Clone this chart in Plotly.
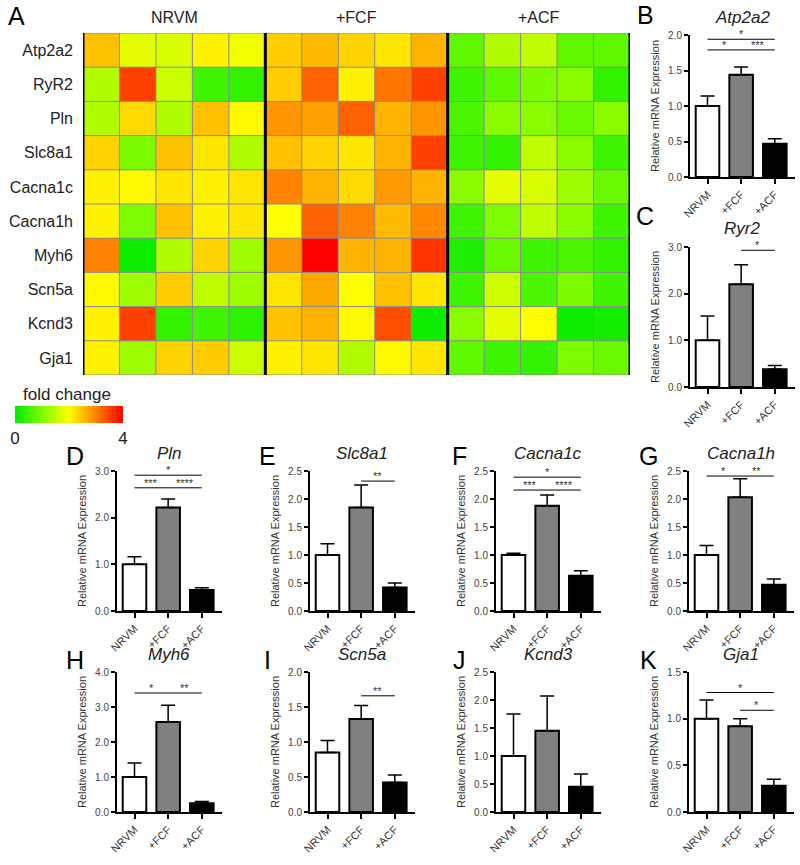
import plotly.graph_objects as go

W, H = 800, 865

# ---------------- heatmap data (panel A) ----------------
genes = ["Atp2a2", "RyR2", "Pln", "Slc8a1", "Cacna1c", "Cacna1h", "Myh6", "Scn5a", "Kcnd3", "Gja1"]
groups = ["NRVM", "+FCF", "+ACF"]
fc_atp2a2 = [2.5, 1.8, 1.7, 2.1, 1.9, 2.4, 2.55, 2.35, 2.2, 2.6, 0.75, 1.4, 1.5, 0.75, 0.75]
fc_ryr2 = [1.4, 3.5, 1.6, 0.5, 0.4, 2.4, 3.25, 2.1, 3.1, 3.5, 0.5, 0.75, 1.0, 1.1, 0.4]
fc_pln = [1.4, 2.3, 1.4, 2.5, 2.05, 2.85, 2.75, 3.25, 2.6, 2.85, 0.6, 1.1, 1.1, 0.85, 1.1]
fc_slc8a1 = [2.35, 1.0, 2.5, 2.2, 1.4, 2.5, 2.35, 2.2, 2.6, 3.5, 0.5, 0.4, 1.5, 1.1, 0.5]
fc_cacna1c = [2.1, 2.05, 2.2, 2.1, 2.2, 3.0, 2.6, 2.3, 2.8, 2.6, 1.1, 1.8, 1.7, 1.25, 0.85]
fc_cacna1h = [2.1, 1.0, 2.5, 2.1, 2.2, 2.0, 3.25, 3.0, 2.55, 2.95, 0.5, 1.0, 1.5, 1.1, 0.5]
fc_myh6 = [3.0, 0.1, 1.4, 2.35, 1.25, 2.85, 4.0, 2.6, 2.6, 3.6, 0.25, 0.85, 0.5, 0.6, 0.4]
fc_scn5a = [2.05, 1.25, 2.4, 1.5, 1.25, 2.2, 2.7, 2.0, 2.5, 2.2, 0.5, 1.6, 0.6, 1.0, 0.5]
fc_kcnd3 = [2.1, 3.5, 0.4, 0.5, 0.35, 2.5, 2.6, 2.05, 3.4, 0.1, 1.1, 1.8, 2.0, 0.1, 0.15]
fc_gja1 = [2.1, 1.25, 2.35, 2.4, 1.6, 2.1, 2.2, 1.4, 2.05, 2.2, 0.75, 0.5, 0.4, 1.0, 0.85]
fold_change = [fc_atp2a2, fc_ryr2, fc_pln, fc_slc8a1, fc_cacna1c,
               fc_cacna1h, fc_myh6, fc_scn5a, fc_kcnd3, fc_gja1]

# ---------------- bar chart data (panels B-K) ----------------
conditions = ["NRVM", "+FCF", "+ACF"]
panel_letters = ["B", "C", "D", "E", "F", "G", "H", "I", "J", "K"]
panel_titles = ["Atp2a2", "Ryr2", "Pln", "Slc8a1", "Cacna1c", "Cacna1h", "Myh6", "Scn5a", "Kcnd3", "Gja1"]
mean_B = [1.0, 1.44, 0.47]; top_B = [1.14, 1.55, 0.54]
mean_C = [1.0, 2.2, 0.38];  top_C = [1.52, 2.62, 0.46]
mean_D = [1.0, 2.22, 0.45]; top_D = [1.16, 2.4, 0.5]
mean_E = [1.0, 1.85, 0.42]; top_E = [1.2, 2.25, 0.5]
mean_F = [1.0, 1.88, 0.63]; top_F = [1.03, 2.07, 0.72]
mean_G = [1.0, 2.03, 0.47]; top_G = [1.17, 2.36, 0.57]
mean_H = [1.0, 2.57, 0.25]; top_H = [1.4, 3.05, 0.3]
mean_I = [0.85, 1.33, 0.42]; top_I = [1.02, 1.52, 0.53]
mean_J = [1.0, 1.45, 0.45]; top_J = [1.75, 2.07, 0.68]
mean_K = [1.0, 0.92, 0.28]; top_K = [1.2, 1.0, 0.35]
means = [mean_B, mean_C, mean_D, mean_E, mean_F, mean_G, mean_H, mean_I, mean_J, mean_K]
tops = [top_B, top_C, top_D, top_E, top_F, top_G, top_H, top_I, top_J, top_K]
y_max = [2.0, 3.0, 3.0, 2.5, 2.5, 2.5, 4.0, 2.0, 2.5, 1.5]
y_step = [0.5, 1.0, 1.0, 0.5, 0.5, 0.5, 1.0, 0.5, 0.5, 0.5]
# significance brackets: (from, to, height, label)
sig_B = [(0, 2, 1.94, "*"), (0, 1, 1.79, "*"), (1, 2, 1.79, "***")]
sig_C = [(1, 2, 2.93, "*")]
sig_D = [(0, 2, 2.91, "*"), (0, 1, 2.64, "***"), (1, 2, 2.64, "****")]
sig_E = [(0, 2, 2.52, "*"), (1, 2, 2.32, "**")]
sig_F = [(0, 2, 2.39, "*"), (0, 1, 2.16, "***"), (1, 2, 2.16, "****")]
sig_G = [(0, 2, 2.57, "*"), (0, 1, 2.41, "*"), (1, 2, 2.41, "**")]
sig_H = [(0, 1, 3.4, "*"), (1, 2, 3.4, "**")]
sig_I = [(1, 2, 1.66, "**")]
sig_J = []
sig_K = [(0, 2, 1.28, "*"), (1, 2, 1.09, "*")]
sigs = [sig_B, sig_C, sig_D, sig_E, sig_F, sig_G, sig_H, sig_I, sig_J, sig_K]

# ---------------- layout geometry (page pixels) ----------------
# (y-axis x position, zero-line y, top y)
geom = [(690, 177, 35), (690, 387, 247),
        (117, 611, 471), (310, 611, 471), (496, 611, 471), (689, 611, 471),
        (117, 812, 672), (310, 812, 672), (496, 812, 672), (689, 812, 672)]
letter_pos = [(645, 15), (645, 216),
              (75, 456), (267, 456), (459, 456), (648, 456),
              (75, 660), (267, 660), (459, 660), (648, 660)]

FONT = "Liberation Sans, Arial, sans-serif"
px = lambda x: x / W
py = lambda y: 1 - y / H

colorscale = [[0.0, "rgb(0,235,0)"], [0.25, "rgb(125,252,0)"], [0.5, "rgb(255,255,0)"],
              [0.75, "rgb(255,130,0)"], [1.0, "rgb(255,0,0)"]]

fig = go.Figure()
fig.add_trace(go.Heatmap(
    z=fold_change, x=list(range(15)), y=genes, zmin=0, zmax=4, colorscale=colorscale,
    colorbar=dict(orientation="h", x=px(15), xanchor="left", y=py(406), yanchor="top",
                  len=108, lenmode="pixels", thickness=17, thicknessmode="pixels",
                  tickvals=[0, 4], ticktext=["0", "4"], ticks="",
                  tickfont=dict(size=17, color="#222", family=FONT),
                  outlinewidth=0, xpad=0, ypad=0),
    xaxis="x", yaxis="y", hoverinfo="skip"))

layout = dict(
    width=W, height=H, margin=dict(l=0, r=0, t=0, b=0, autoexpand=False),
    paper_bgcolor="white", plot_bgcolor="white", showlegend=False,
    font=dict(family=FONT, color="#222"),
    xaxis=dict(domain=[px(83), px(630)], range=[-0.5, 14.5], showticklabels=False,
               showgrid=False, zeroline=False, ticks=""),
    yaxis=dict(domain=[py(375), py(33)], range=[9.5, -0.5], showgrid=False, zeroline=False,
               ticks="", tickfont=dict(size=16, color="#222"), ticklabelstandoff=9),
)
shapes = []
annotations = []

# heatmap cell borders
for i in range(1, 15):
    if i % 5:
        shapes.append(dict(type="line", xref="x", yref="y", x0=i - 0.5, x1=i - 0.5, y0=-0.5, y1=9.5,
                           line=dict(color="#8c8c8c", width=1)))
for j in range(0, 11):
    shapes.append(dict(type="line", xref="x", yref="y", x0=-0.5, x1=14.5, y0=j - 0.5, y1=j - 0.5,
                       line=dict(color="#8c8c8c", width=1)))
for i in (0, 5, 10, 15):
    shapes.append(dict(type="line", xref="x", yref="y", x0=i - 0.5, x1=i - 0.5, y0=-0.5, y1=9.5,
                       line=dict(color="black", width=3)))
for g, name in enumerate(groups):
    annotations.append(dict(text=name, xref="x", yref="paper", x=5 * g + 2, y=py(17),
                            xanchor="center", yanchor="middle",
                            showarrow=False, font=dict(size=16, color="#222")))
annotations.append(dict(text="A", xref="paper", yref="paper", x=px(16), y=py(16),
                        xanchor="center", yanchor="middle",
                        showarrow=False, font=dict(size=25, color="black")))
annotations.append(dict(text="fold change", xref="paper", yref="paper", x=px(67), y=py(395),
                        xanchor="center", yanchor="middle",
                        showarrow=False, font=dict(size=17, color="#222")))

bar_colors = ["white", "#808080", "black"]
for k in range(10):
    n = k + 2
    xa, ya = f"x{n}", f"y{n}"
    x0, yz, yt = geom[k]
    m = means[k]
    fig.add_trace(go.Bar(
        x=[0, 1, 2], y=m, width=0.7, xaxis=xa, yaxis=ya,
        marker=dict(color=bar_colors, line=dict(color="black", width=2)),
        error_y=dict(type="data", array=[t - v for t, v in zip(tops[k], m)],
                     arrayminus=[0, 0, 0], symmetric=False, color="black",
                     thickness=1.5, width=7),
        hoverinfo="skip"))
    ticks_y = []
    v = 0.0
    while v <= y_max[k] + 1e-9:
        ticks_y.append(round(v, 2))
        v += y_step[k]
    layout[f"xaxis{n}"] = dict(
        domain=[px(x0), px(x0 + 105)], range=[-0.52, 2.6], anchor=ya,
        tickvals=[0, 1, 2], ticktext=conditions, tickangle=-45,
        ticks="outside", ticklen=5, tickwidth=1.5, tickcolor="black",
        showline=True, linewidth=2, linecolor="black", showgrid=False, zeroline=False,
        tickfont=dict(size=11, color="#333"))
    layout[f"yaxis{n}"] = dict(
        domain=[py(yz), py(yt)], range=[0, y_max[k]], anchor=xa,
        tickvals=ticks_y, tickformat=".1f",
        ticks="outside", ticklen=4, tickwidth=1.5, tickcolor="black",
        showline=True, linewidth=2, linecolor="black", showgrid=False, zeroline=False,
        tickfont=dict(size=10, color="#444"),
        title=dict(text="Relative mRNA Expression", standoff=6,
                   font=dict(size=11, color="#333")))
    for (a, b, h, lab) in sigs[k]:
        shapes.append(dict(type="line", xref=xa, yref=ya, x0=a, x1=b, y0=h, y1=h,
                           line=dict(color="black", width=1)))
        annotations.append(dict(text=lab, xref=xa, yref=ya, x=(a + b) / 2, y=h,
                                xanchor="center", yanchor="bottom", showarrow=False, yshift=-3,
                                font=dict(size=11, color="#333")))
    lx, ly = letter_pos[k]
    annotations.append(dict(text=panel_letters[k], xref="paper", yref="paper", x=px(lx), y=py(ly),
                            xanchor="center", yanchor="middle",
                            showarrow=False, font=dict(size=25, color="black")))
    annotations.append(dict(text=f"<i>{panel_titles[k]}</i>", xref="paper", yref="paper",
                            x=px(x0 + 52), y=py(yt - 18), xanchor="center", yanchor="middle",
                            showarrow=False, font=dict(size=17, color="#222")))

layout["shapes"] = shapes
layout["annotations"] = annotations
fig.update_layout(**layout)
# remove the default 8px page margin so the figure fills the 800x865 window exactly
fig.write_html("out.html", config={"displayModeBar": False},
               post_script="document.body.style.margin='0';document.body.style.overflow='hidden';")
